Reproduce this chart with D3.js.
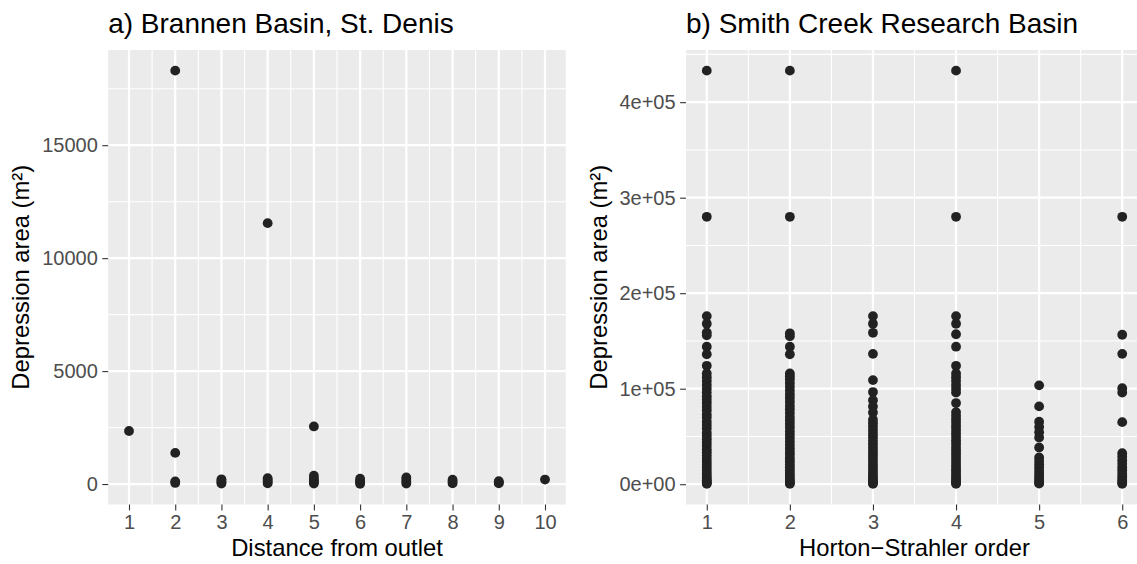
<!DOCTYPE html>
<html>
<head>
<meta charset="utf-8">
<script src="https://cdn.jsdelivr.net/npm/d3@7"></script>
<style>
  body { margin: 0; background: #fff; }
  svg { display: block; font-family: "Liberation Sans", Arial, sans-serif; }
</style>
</head>
<body>
<svg id="chart"></svg>
<script>
// panel a) data: distance from outlet / depression area (m²)
const brannenDistance = [1, 2, 2, 2, 2, 3, 3, 3, 3, 4, 4, 4, 4, 4, 5, 5, 5, 5, 5, 5, 6, 6, 6, 6, 7, 7, 7, 7, 8, 8, 8, 9, 9, 9, 10];
const brannenArea = [2350, 18300, 1380, 50, 120, 20, 80, 150, 210, 11550, 30, 100, 180, 260, 2550, 20, 90, 160, 250, 370, 10, 80, 150, 240, 20, 100, 190, 290, 30, 110, 190, 30, 80, 130, 200];

// panel b) data: depression area by Horton-Strahler order
const smithOrder1 = [433000, 280000, 176000, 168000, 159000, 156000, 144000, 136000, 124000, 116000, 112000, 108000, 104000, 100000, 96000, 92000,
  88500, 85000, 81200, 77400, 73100, 69800, 65500, 61900, 58300, 54000, 50600, 47100, 43800, 40200, 36700, 33500, 30100, 26800, 23400, 20500, 17200, 14100, 11300, 8600, 6200, 4100, 2500, 1200, 400];
const smithOrder2 = [433000, 280000, 158000, 155000, 144000, 136000, 116000, 113000, 110000, 106000, 102000, 98000, 94000,
  90200, 86300, 82100, 78500, 74600, 70300, 66800, 63100, 59400, 55200, 51700, 48300, 44600, 41000, 37500, 34100, 30800, 27300, 24100, 20900, 17700, 14600, 11800, 9100, 6500, 4300, 2600, 1300, 500];
const smithOrder3 = [176000, 168000, 158500, 136500, 109000, 96500, 88000, 81500, 75000,
  67500, 63800, 60200, 56300, 52700, 49100, 45400, 41900, 38300, 34800, 31400, 28000, 24700, 21300, 18100, 14900, 12000, 9200, 6700, 4400, 2700, 1300, 500];
const smithOrder4 = [433000, 280000, 176000, 168000, 157000, 144000, 124000, 116000, 112000, 108000, 104000, 100000, 96000, 85000,
  75500, 71800, 68100, 64300, 60700, 57000, 53400, 49800, 46100, 42600, 39000, 35500, 32100, 28700, 25400, 22100, 18900, 15800, 12800, 10000, 7400, 5000, 3000, 1400, 500];
const smithOrder5 = [103500, 81500, 65500, 60000, 54500, 49000, 38500,
  28000, 24400, 20900, 17500, 14200, 11100, 8200, 5600, 3400, 1700, 600];
const smithOrder6 = [280000, 156500, 136500, 100500, 96000, 65000,
  32500, 28700, 25000, 21400, 17900, 14500, 11300, 8300, 5600, 3300, 1600, 500];

const leftXTicks = [1, 2, 3, 4, 5, 6, 7, 8, 9, 10];
const leftYTicks = [0, 5000, 10000, 15000];
const leftYMinor = [2500, 7500, 12500, 17500];
const rightXTicks = [1, 2, 3, 4, 5, 6];
const rightYTicks = [0, 100000, 200000, 300000, 400000];
const rightYMinor = [50000, 150000, 250000, 350000, 450000];

const width = 1137, height = 564;
const panelTop = 50, panelBottom = 504.5;

const svg = d3.select("#chart").attr("width", width).attr("height", height);
svg.append("rect").attr("width", width).attr("height", height).attr("fill", "#fff");

// expand a domain by 5% on each side, like ggplot
function expand(ext) {
  const pad = (ext[1] - ext[0]) * 0.05;
  return [ext[0] - pad, ext[1] + pad];
}

function panel(opt) {
  const x = d3.scaleLinear().domain(expand(d3.extent(opt.xs))).range([opt.left, opt.right]);
  const y = d3.scaleLinear().domain(expand(d3.extent(opt.ys))).range([panelBottom, panelTop]);
  const g = svg.append("g");

  g.append("rect")
    .attr("x", opt.left).attr("y", panelTop)
    .attr("width", opt.right - opt.left).attr("height", panelBottom - panelTop)
    .attr("fill", "#EBEBEB");

  const xMinor = d3.pairs(opt.xTicks).map(([a, b]) => (a + b) / 2);

  // minor grid
  g.selectAll(".vminor").data(xMinor).enter().append("line")
    .attr("x1", d => x(d)).attr("x2", d => x(d))
    .attr("y1", panelTop).attr("y2", panelBottom)
    .attr("stroke", "#fff").attr("stroke-width", 1.1);
  g.selectAll(".hminor").data(opt.yMinor).enter().append("line")
    .attr("x1", opt.left).attr("x2", opt.right)
    .attr("y1", d => y(d)).attr("y2", d => y(d))
    .attr("stroke", "#fff").attr("stroke-width", 1.1);
  // major grid
  g.selectAll(".vmajor").data(opt.xTicks).enter().append("line")
    .attr("x1", d => x(d)).attr("x2", d => x(d))
    .attr("y1", panelTop).attr("y2", panelBottom)
    .attr("stroke", "#fff").attr("stroke-width", 2.2);
  g.selectAll(".hmajor").data(opt.yTicks).enter().append("line")
    .attr("x1", opt.left).attr("x2", opt.right)
    .attr("y1", d => y(d)).attr("y2", d => y(d))
    .attr("stroke", "#fff").attr("stroke-width", 2.2);

  // points
  g.selectAll(".pt").data(opt.xs.map((d, i) => [d, opt.ys[i]])).enter().append("circle")
    .attr("cx", d => x(d[0])).attr("cy", d => y(d[1]))
    .attr("r", 4.9).attr("fill", "#222222");

  // axes
  const xAxis = g.append("g").attr("transform", `translate(0,${panelBottom})`)
    .call(d3.axisBottom(x).tickValues(opt.xTicks).tickSize(5.9).tickPadding(4.5).tickFormat(d3.format("d")));
  const yAxis = g.append("g").attr("transform", `translate(${opt.left},0)`)
    .call(d3.axisLeft(y).tickValues(opt.yTicks).tickSize(5.9).tickPadding(4.5).tickFormat(opt.yFormat));
  [xAxis, yAxis].forEach(a => {
    a.select(".domain").remove();
    a.selectAll(".tick line").attr("stroke", "#333333").attr("stroke-width", 1.1);
    a.selectAll(".tick text").attr("fill", "#4D4D4D").style("font-size", "20px");
  });

  // titles
  g.append("text")
    .attr("x", opt.left).attr("y", 33)
    .style("font-size", "28px").attr("fill", "#000")
    .text(opt.title);
  g.append("text")
    .attr("x", (opt.left + opt.right) / 2).attr("y", 556)
    .attr("text-anchor", "middle")
    .style("font-size", "23.8px").attr("fill", "#000")
    .text(opt.xLabel);
  g.append("text")
    .attr("transform", `translate(${opt.yLabelX},${(panelTop + panelBottom) / 2}) rotate(-90)`)
    .attr("text-anchor", "middle")
    .style("font-size", "23.8px").attr("fill", "#000")
    .text("Depression area (m²)");
}

panel({
  left: 108.2, right: 565.8,
  xs: brannenDistance, ys: brannenArea,
  xTicks: leftXTicks, yTicks: leftYTicks, yMinor: leftYMinor,
  yFormat: d3.format("d"),
  title: "a) Brannen Basin, St. Denis",
  xLabel: "Distance from outlet",
  yLabelX: 29
});

const smithValues = [smithOrder1, smithOrder2, smithOrder3, smithOrder4, smithOrder5, smithOrder6];
panel({
  left: 686, right: 1143,
  xs: smithValues.flatMap((vals, i) => vals.map(() => i + 1)),
  ys: smithValues.flat(),
  xTicks: rightXTicks, yTicks: rightYTicks, yMinor: rightYMinor,
  yFormat: d => d === 0 ? "0e+00" : d3.format(".0e")(d).replace(/e\+(\d)$/, "e+0$1"),
  title: "b) Smith Creek Research Basin",
  xLabel: "Horton\u2212Strahler order",
  yLabelX: 607
});
</script>
</body>
</html>
